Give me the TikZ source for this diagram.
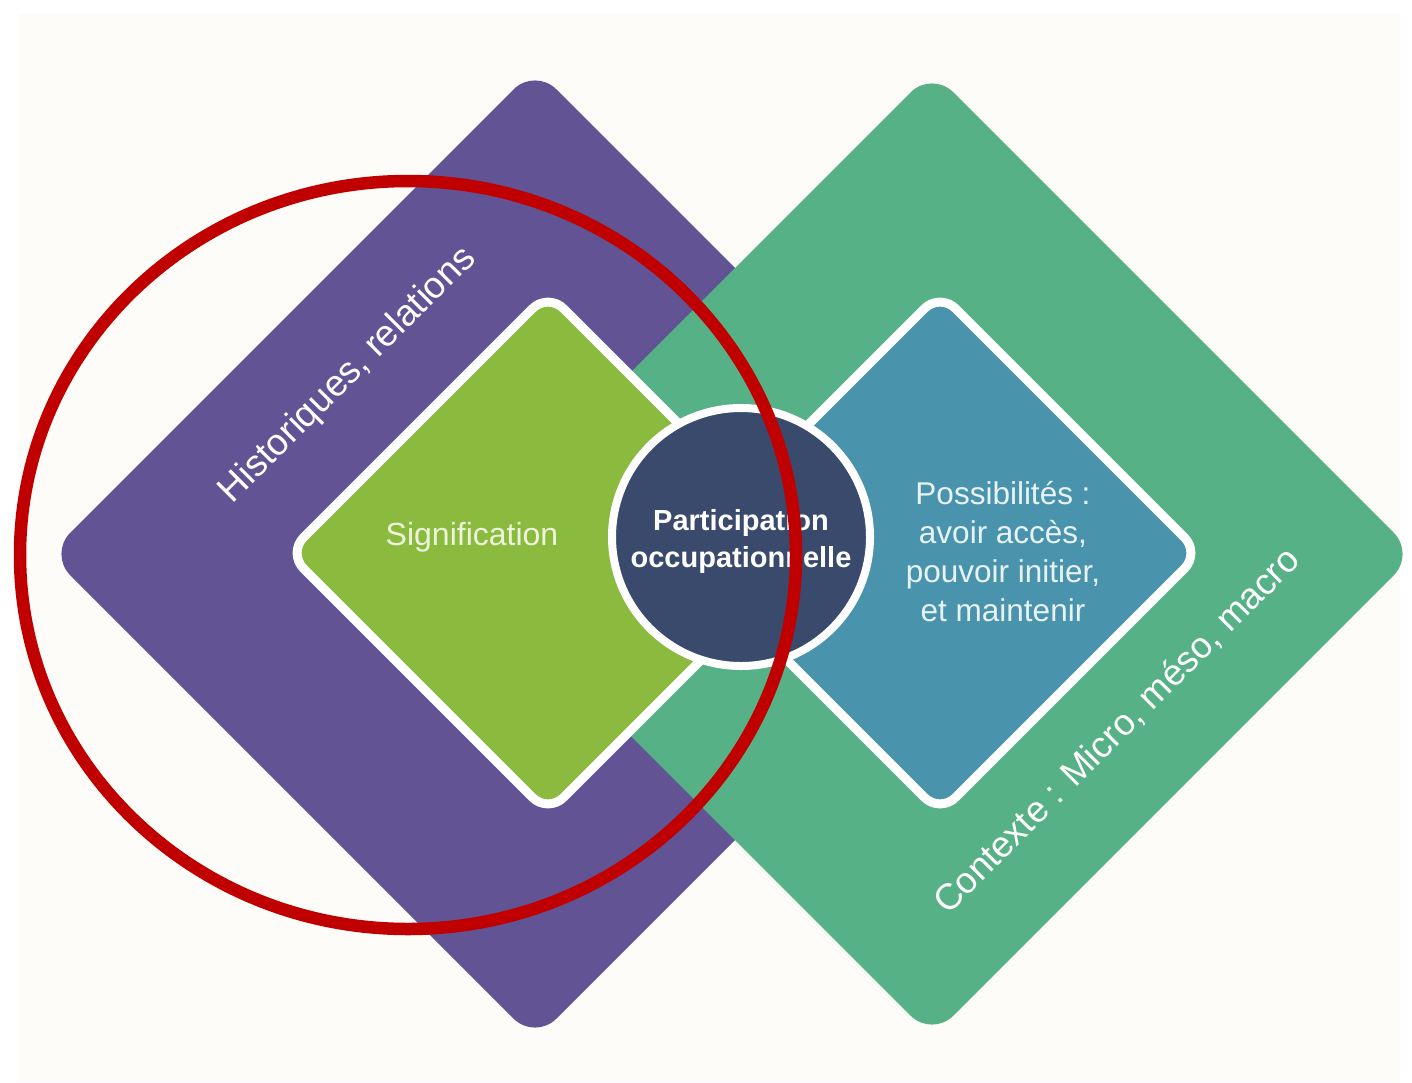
\documentclass[tikz,border=0pt]{standalone}
\usepackage{fontspec}
\setmainfont{Liberation Sans}
\definecolor{bgcream}{HTML}{FEFCF8}
\definecolor{purp}{HTML}{625494}
\definecolor{outgreen}{HTML}{57B186}
\definecolor{ingreen}{HTML}{8ABB3E}
\definecolor{teal}{HTML}{4A93AD}
\definecolor{navy}{HTML}{3A4A6D}
\definecolor{redring}{HTML}{C00000}
\definecolor{sigtext}{HTML}{EEF4DC}
\definecolor{postext}{HTML}{E8F3F6}
\newcommand{\rdiam}[3]{(#1-#3/2,#2-#3/2) -- (#1,#2-#3) -- (#1+#3,#2) -- (#1,#2+#3) -- (#1-#3,#2) -- cycle}
\tikzset{
  outerdiam/.style={rounded corners=30pt},
  innerdiam/.style={draw=white, line width=9pt, rounded corners=22pt},
  sidelabel/.style={rotate=45, anchor=base, text=white, inner sep=0pt},
  bodylabel/.style={align=center, inner sep=0pt},
}
\begin{document}
\begin{tikzpicture}[x=1pt, y=-1pt]
\useasboundingbox (0,0) rectangle (1412,1082);
\fill[white] (0,0) rectangle (1412,1082);
\fill[bgcream] (18,14) rectangle (1400,1082);
% outer diamonds
\fill[purp, outerdiam] \rdiam{535}{554}{486};
\fill[outgreen, outerdiam] \rdiam{932}{554}{483};
% inner diamonds
\filldraw[fill=ingreen, innerdiam] \rdiam{548}{553}{260};
\filldraw[fill=teal, innerdiam] \rdiam{940}{553}{260};
% centre circle
\node[circle, fill=navy, draw=white, line width=8pt, minimum size=258pt, inner sep=0pt] (core) at (741,537) {};
% texts
\node[bodylabel, text=white, font=\bfseries\fontsize{29}{37}\selectfont] (part) at (741,541) {Participation\\occupationnelle};
\node[bodylabel, text=sigtext, font=\fontsize{32}{39}\selectfont] (sig) at (472,537) {Signification};
\node[bodylabel, text=postext, font=\fontsize{31.5}{39}\selectfont] (pos) at (1003,552) {Possibilités :\\avoir accès,\\pouvoir initier,\\et maintenir};
\node[sidelabel, font=\fontsize{37}{44}\selectfont] (hist) at (355,382) {Historiques, relations};
\node[sidelabel, font=\fontsize{36.5}{44}\selectfont] (ctx) at (1125,739) {Contexte : Micro, méso, macro};
% red ellipse
\draw[redring, line width=12.5pt] (408,555) ellipse [x radius=388, y radius=374];
\end{tikzpicture}
\end{document}
